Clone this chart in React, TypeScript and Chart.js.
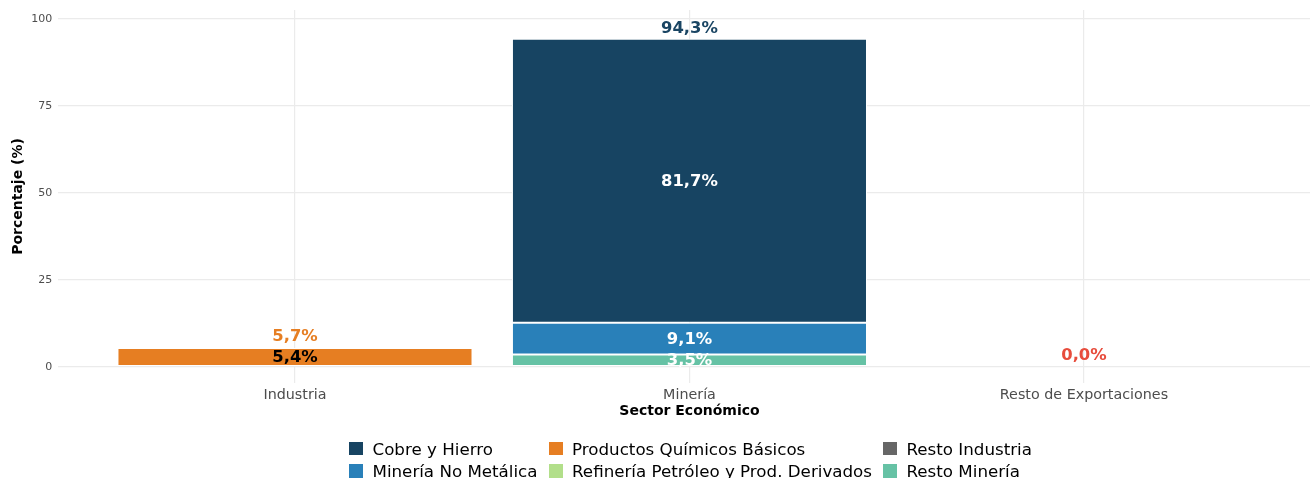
import React, { useEffect, useRef } from 'react';
import { Chart, registerables } from 'chart.js';

Chart.register(...registerables);

const sectors = ['Industria', 'Minería', 'Resto de Exportaciones'];

// stacked bottom to top
const seriesNames = [
  'Resto Minería',
  'Resto Industria',
  'Refinería Petróleo y Prod. Derivados',
  'Productos Químicos Básicos',
  'Minería No Metálica',
  'Cobre y Hierro',
];
const restoMineria = [0, 3.5, 0];
const restoIndustria = [0, 0, 0];
const refineria = [0, 0, 0];
const productosQuimicos = [5.4, 0, 0];
const mineriaNoMetalica = [0, 9.1, 0];
const cobreHierro = [0, 81.7, 0];
const seriesColors = ['#66c2a5', '#666666', '#b2df8a', '#e67e22', '#2980b9', '#174462'];
const labelColors = ['#ffffff', '#ffffff', '#000000', '#000000', '#ffffff', '#ffffff'];

const totals = [5.7, 94.3, 0.0];
const totalColors = ['#e67e22', '#1a4563', '#e74c3c'];

const yTicks = [0, 25, 50, 75, 100];

const legendOrder = [
  'Cobre y Hierro',
  'Minería No Metálica',
  'Productos Químicos Básicos',
  'Refinería Petróleo y Prod. Derivados',
  'Resto Industria',
  'Resto Minería',
];

const FONT = '"DejaVu Sans", sans-serif';
const fmt = (v: number) => v.toFixed(1).replace('.', ',') + '%';

const labelsPlugin = {
  id: 'labelsPlugin',
  afterDraw(chart: any) {
    const ctx = chart.ctx;
    const x = chart.scales.x;
    const y = chart.scales.y;
    const area = chart.chartArea;
    ctx.save();
    // y ticks
    ctx.font = `11px ${FONT}`;
    ctx.fillStyle = '#4d4d4d';
    ctx.textAlign = 'right';
    ctx.textBaseline = 'middle';
    yTicks.forEach((t) => ctx.fillText(String(t), area.left - 6, y.getPixelForValue(t)));
    // x ticks
    ctx.font = `14.3px ${FONT}`;
    ctx.textAlign = 'center';
    sectors.forEach((s, i) => ctx.fillText(s, x.getPixelForValue(i + 1), area.bottom + 12));
    // axis titles
    ctx.fillStyle = '#000000';
    ctx.font = `bold 14px ${FONT}`;
    ctx.fillText('Sector Económico', x.getPixelForValue(2), area.bottom + 28);
    ctx.save();
    ctx.translate(18, (area.top + area.bottom) / 2);
    ctx.rotate(-Math.PI / 2);
    ctx.fillText('Porcentaje (%)', 0, 0);
    ctx.restore();
    // segment labels
    ctx.font = `bold 16.4px ${FONT}`;
    chart.data.datasets.forEach((ds: any, di: number) => {
      const meta = chart.getDatasetMeta(di);
      meta.data.forEach((bar: any, i: number) => {
        const v = ds.data[i].y;
        if (v <= 0) return;
        ctx.fillStyle = labelColors[di];
        ctx.fillText(fmt(v), bar.x, (bar.y + bar.base) / 2 + 0.8);
      });
    });
    // totals
    totals.forEach((t, i) => {
      ctx.fillStyle = totalColors[i];
      ctx.fillText(fmt(t), x.getPixelForValue(i + 1), y.getPixelForValue(t) - 10.5);
    });
    ctx.restore();
  },
};

const ChartCanvas: React.FC = () => {
  const ref = useRef<HTMLCanvasElement>(null);

  useEffect(() => {
    if (!ref.current) return;
    const values = [restoMineria, restoIndustria, refineria, productosQuimicos, mineriaNoMetalica, cobreHierro];
    const chart = new Chart(ref.current, {
      type: 'bar',
      data: {
        datasets: values.map((vals, di) => ({
          label: seriesNames[di],
          data: vals.map((v, i) => ({ x: i + 1, y: v })),
          backgroundColor: seriesColors[di],
          borderColor: '#ffffff',
          borderWidth: 1,
          borderSkipped: false,
          barPercentage: 0.9,
          categoryPercentage: 1,
        })),
      },
      options: {
        responsive: false,
        animation: false,
        layout: { padding: { left: 58.3, right: 0, top: 10, bottom: 95 } },
        plugins: { legend: { display: false }, tooltip: { enabled: false } },
        scales: {
          x: {
            type: 'linear',
            stacked: true,
            offset: false,
            min: 0.4,
            max: 3.573,
            afterBuildTicks: (scale: any) => {
              scale.ticks = sectors.map((_, i) => ({ value: i + 1 }));
            },
            ticks: { display: false },
            grid: { color: '#ebebeb', lineWidth: 1.2, drawTicks: false, offset: false },
            border: { display: false },
          },
          y: {
            type: 'linear',
            stacked: true,
            min: -4.7,
            max: 102.6,
            afterBuildTicks: (scale: any) => {
              scale.ticks = yTicks.map((v) => ({ value: v }));
            },
            ticks: { display: false },
            grid: { color: '#ebebeb', lineWidth: 1.2, drawTicks: false },
            border: { display: false },
          },
        },
      },
      plugins: [labelsPlugin],
    });
    return () => chart.destroy();
  }, []);

  return <canvas ref={ref} width={1310} height={478} style={{ position: 'absolute', left: 0, top: 0 }} />;
};

const App: React.FC = () => {
  return (
    <div style={{ position: 'absolute', left: 0, top: 0, width: 1310, height: 478, overflow: 'hidden', background: '#fff' }}>
      <ChartCanvas />
      <div
        style={{
          position: 'absolute',
          top: 437.5,
          left: 349,
          display: 'grid',
          gridTemplateRows: 'repeat(2, 22.4px)',
          gridAutoFlow: 'column',
          columnGap: 11,
          fontFamily: FONT,
          fontSize: 16.7,
          whiteSpace: 'nowrap',
        }}
      >
        {legendOrder.map((name) => (
          <div key={name} style={{ display: 'flex', alignItems: 'center' }}>
            <span
              style={{
                width: 14,
                height: 13.5,
                background: seriesColors[seriesNames.indexOf(name)],
                marginRight: 9.5,
                display: 'inline-block',
              }}
            />
            <span>{name}</span>
          </div>
        ))}
      </div>
    </div>
  );
};

export default App;
